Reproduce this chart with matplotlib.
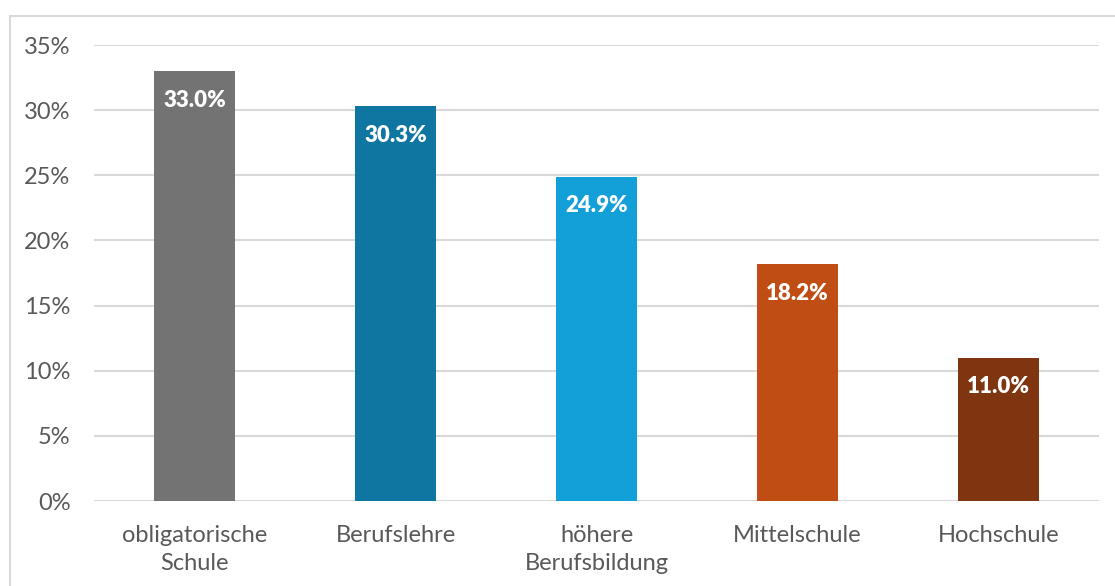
import matplotlib
matplotlib.use("Agg")
import matplotlib.pyplot as plt
from matplotlib.patches import Rectangle
from matplotlib.ticker import FuncFormatter, MultipleLocator

categories = ["obligatorische\nSchule", "Berufslehre", "höhere\nBerufsbildung", "Mittelschule", "Hochschule"]
values = [33.0, 30.3, 24.9, 18.2, 11.0]
colors = ["#737373", "#0E76A0", "#139FD8", "#C04E14", "#7F3510"]

plt.rcParams['font.family'] = ['Lato', 'DejaVu Sans']

fig = plt.figure(figsize=(11.15, 5.86), dpi=100)
fig.patches.append(Rectangle((10/1115, -0.1), 1.2, 1 - 16/586 + 0.1, transform=fig.transFigure,
                             fill=False, edgecolor="#D9D9D9", linewidth=1.5))
ax = fig.add_axes([94/1115, 1 - 501/586, (1099-94)/1115, (501-45)/586])

x = range(len(categories))
bars = ax.bar(x, values, width=0.40, color=colors, zorder=3)
for b, v in zip(bars, values):
    ax.annotate(f"{v:.1f}%", (b.get_x() + b.get_width()/2, v), xytext=(0, -21),
                textcoords="offset points", ha="center", va="center",
                color="white", fontsize=16, fontweight="heavy", zorder=4)

ax.set_xlim(-0.5, len(categories) - 0.5)
ax.set_ylim(0, 35)
ax.yaxis.set_major_locator(MultipleLocator(5))
ax.yaxis.set_major_formatter(FuncFormatter(lambda v, p: f"{v:.0f}%"))
ax.set_xticks(list(x))
ax.set_xticklabels(categories, fontsize=17, color="#595959", linespacing=1.45)
ax.tick_params(axis="y", labelsize=17, labelcolor="#595959", length=0, pad=17)
ax.tick_params(axis="x", length=0, pad=17)
ax.grid(axis="y", color="#D9D9D9", linewidth=1.5, zorder=0)
for s in ax.spines.values():
    s.set_visible(False)

fig.savefig("out.png", dpi=100)
